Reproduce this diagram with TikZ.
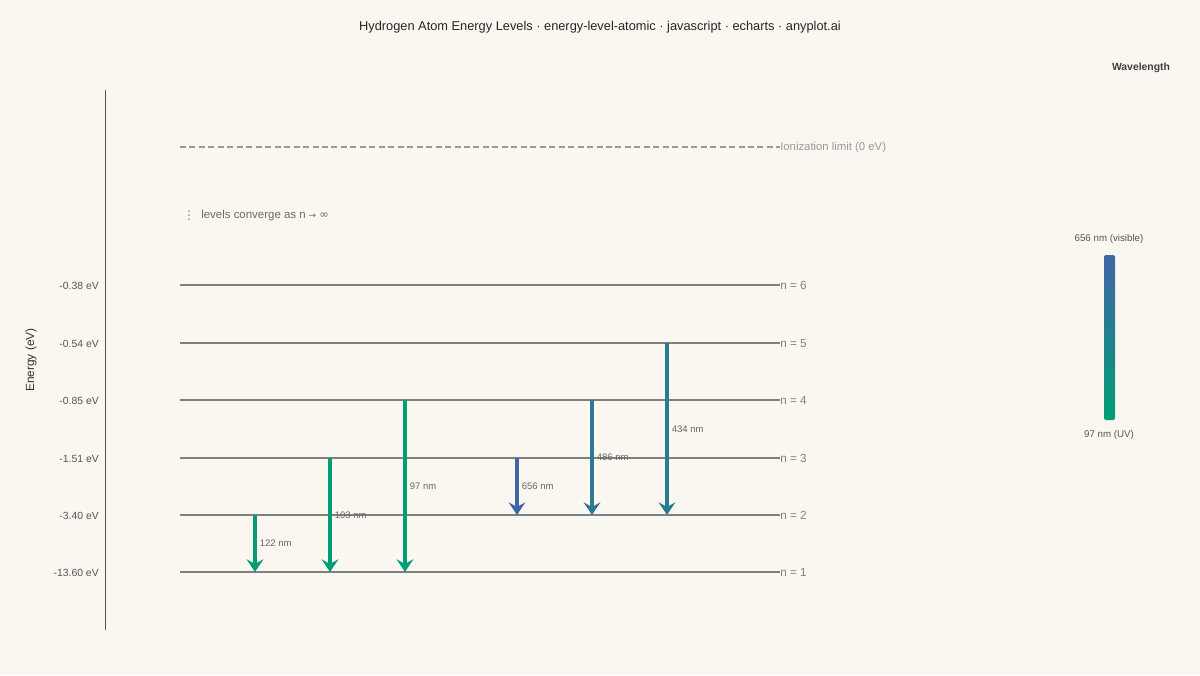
\documentclass[tikz,border=0pt]{standalone}
\usepackage{fontspec}
\setmainfont{Liberation Sans}
\newfontfamily\symfont{DejaVu Sans}
\usetikzlibrary{arrows.meta, positioning}
\definecolor{bgcol}{HTML}{FAF7F1}
\definecolor{levcol}{HTML}{7F7F7F}
\definecolor{visend}{HTML}{4166A5}
\definecolor{uvend}{HTML}{009E73}
\definecolor{txtcol}{HTML}{555555}
\definecolor{faintcol}{HTML}{999999}

\begin{document}
\begin{tikzpicture}[x=0.75pt, y=-0.75pt,
    level/.style={draw=levcol, line width=2.2pt},
    lvllabel/.style={text=faintcol!85!black, font=\fontsize{8.8}{10}\selectfont, inner sep=0pt, anchor=west},
    ticklabel/.style={text=txtcol, font=\fontsize{7.8}{9}\selectfont, inner sep=0pt},
    trans/.style={line width=2.3pt, -{Stealth[length=9.5pt, width=12.5pt, inset=3.5pt]}},
    wllabel/.style={text=txtcol!90, font=\fontsize{7.1}{9}\selectfont, inner sep=0pt}
  ]
  \fill[bgcol] (0,0) rectangle (1200,675);
  \useasboundingbox (0,0) rectangle (1200,675);

  \node[font=\fontsize{9.6}{11}\selectfont, text=black!85] (title) at (600,27)
    {Hydrogen Atom Energy Levels · energy-level-atomic · javascript · echarts · anyplot.ai};

  % energy axis
  \coordinate (axtop) at (105,90);
  \coordinate (axbot) at (105,630);
  \draw[txtcol, line width=0.75pt] (axtop) -- (axbot);
  \node[ticklabel, rotate=90, font=\fontsize{8.9}{10}\selectfont, text=black!80] (ylab) at (31,360) {Energy (eV)};

  % levels
  \foreach \n/\yy/\ev in {1/572/-13.60, 2/515/-3.40, 3/458/-1.51, 4/400/-0.85, 5/343/-0.54, 6/285/-0.38} {
    \coordinate (w\n) at (180,\yy);
    \coordinate (e\n) at (780,\yy);
    \draw[level] (w\n) -- (e\n);
    \node[lvllabel, right=0pt of e\n, yshift=-0.6pt] (nl\n) {n = \n};
    \node[ticklabel, anchor=east, yshift=-0.6pt] (ev\n) at (99,\yy) {\ev\ eV};
  }

  % ionization limit
  \coordinate (ionw) at (180,147);
  \coordinate (ione) at (780,147);
  \draw[faintcol, line width=1.3pt, dash pattern=on 4.5pt off 2.6pt] (ionw) -- (ione);
  \node[lvllabel, font=\fontsize{8.5}{10}\selectfont, text=faintcol, right=0pt of ione, yshift=-0.6pt] (ionlab) {Ionization limit (0 eV)};

  \node[text=faintcol!80!black, font=\fontsize{9}{11}\selectfont\symfont, inner sep=0pt] (vdots) at (189,216) {⋮};
  \node[text=faintcol!70!black, font=\fontsize{8.6}{10}\selectfont, inner sep=0pt, anchor=west] (conv) at (201,216)
    {levels converge as n {\symfont\fontsize{6.5}{9}\selectfont →} {\symfont ∞}};

  % transitions
  \foreach \x/\from/\to/\wl/\mix in {255/2/1/122/4, 330/3/1/103/1, 405/4/1/97/0, 517/3/2/656/100, 592/4/2/486/70, 667/5/2/434/60} {
    \path (w\from) ++(\x-180,0) coordinate (s\wl);
    \path (w\to) ++(\x-180,0) coordinate (t\wl);
    \draw[trans, draw=visend!\mix!uvend] (s\wl) -- (t\wl)
      node[midway, right=2.5pt, wllabel] (lab\wl) {\wl\ nm};
  }

  % wavelength scale
  \node[font=\bfseries\fontsize{7.8}{9}\selectfont, text=black!75] (wlhead) at (1141,68) {Wavelength};
  \shade[top color=visend, bottom color=uvend, rounded corners=1.5pt] (1104,255) rectangle (1115,420);
  \node[ticklabel, font=\fontsize{7.3}{9}\selectfont] (vislab) at (1109,239) {656 nm (visible)};
  \node[ticklabel, font=\fontsize{7.3}{9}\selectfont] (uvlab) at (1109,435) {97 nm (UV)};
\end{tikzpicture}
\end{document}
